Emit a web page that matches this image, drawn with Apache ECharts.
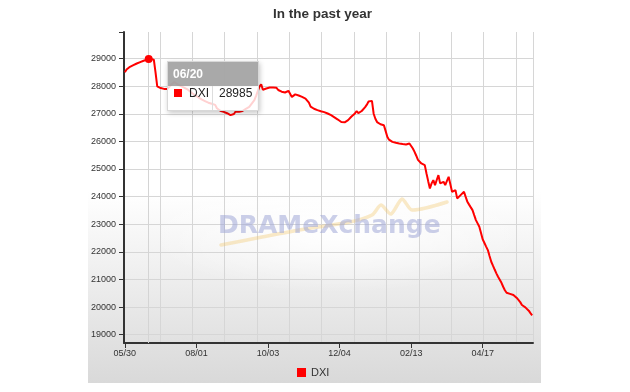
<!DOCTYPE html>
<html><head><meta charset="utf-8">
<script src="https://cdn.jsdelivr.net/npm/echarts@6/dist/echarts.min.js"></script>
<style>html,body{margin:0;padding:0;background:#fff;}#c{width:630px;height:392px;}</style>
</head><body><div id="c"></div>
<script>
// ---------- data ----------
const titleText = 'In the past year';
const seriesName = 'DXI';
const startDate = '2023-05-30';
const holidays = ['2023-06-02','2023-06-22','2023-06-23','2023-08-03','2023-09-28','2023-09-29',
  '2023-10-09','2023-10-10','2023-12-25','2023-12-26','2024-01-01','2024-02-05','2024-02-06',
  '2024-02-07','2024-02-08','2024-02-09','2024-02-12','2024-02-14','2024-02-28','2024-04-04',
  '2024-04-05','2024-05-01'];
const dxi = [
28500,28600,28660,28700,28730,28760,28790,28820,28850,28870,
28890,28920,28940,28960,28985,28980,28970,28960,28500,27990,
27950,27930,27910,27900,27880,27900,27960,28040,28110,28150,
28100,28060,28030,28000,27970,27940,27910,27870,27820,27770,
27720,27680,27640,27600,27560,27520,27490,27460,27430,27400,
27380,27360,27340,27320,27200,27130,27110,27090,27070,27050,
27020,26990,26950,26920,26990,27080,27130,27070,27030,27100,
27150,27180,27220,27250,27320,27410,27490,27650,27820,27980,
28070,27870,27890,27915,27930,27950,27960,27950,27960,27940,
27860,27817,27800,27780,27770,27800,27830,27853,27610,27660,
27700,27680,27660,27640,27610,27580,27550,27530,27400,27260,
27220,27180,27150,27130,27110,27090,27070,27060,27046,27010,
26980,26950,26910,26870,26830,26790,26768,26700,26648,26690,
26730,26768,26830,26900,26950,27010,27100,27020,27010,27100,
27160,27240,27330,27440,27470,27466,27000,26820,26700,26648,
26620,26600,26587,26380,26164,26060,26010,25983,25960,25950,
25940,25925,25915,25905,25895,25889,25910,25925,25863,25740,
25621,25480,25330,25259,25200,25160,25140,24839,24560,24297,
24478,24597,24416,24600,24778,24478,24510,24536,24416,24570,
24717,24450,24174,24200,24235,23935,24000,24054,24110,24174,
23990,23812,23710,23610,23511,23330,23150,23030,22907,22680,
22450,22320,22190,22064,21850,21641,21500,21360,21222,21100,
21040,20880,20737,20610,20520,20498,20480,20460,20437,20380,
20330,20290,20180,20075,20030,19990,19955,19870,19780,19700];
const yTickValues = [19000,20000,21000,22000,23000,24000,25000,26000,27000,28000,29000];
const yMin = 18700, yMax = 29960;
const labelEvery = 42;
const gridFirst = 21, gridEvery = 19;
const tipIndex = 14;

// ---------- categories (trading days) ----------
function buildDates(start, n, skip) {
  const out = [];
  const d = new Date(start + 'T00:00:00Z');
  while (out.length < n) {
    const iso = d.toISOString().slice(0, 10);
    const wd = d.getUTCDay();
    if (wd !== 0 && wd !== 6 && skip.indexOf(iso) < 0) out.push(iso.slice(5, 7) + '/' + iso.slice(8, 10));
    d.setUTCDate(d.getUTCDate() + 1);
  }
  return out;
}
const categories = buildDates(startDate, dxi.length, holidays);

const chart = echarts.init(document.getElementById('c'), null, {renderer: 'canvas'});
const labelFont = '"Liberation Sans", Arial, sans-serif';

chart.setOption({
  animation: false,
  backgroundColor: '#fff',
  title: {
    text: titleText, left: 273, top: 7, padding: 0,
    textStyle: {fontFamily: labelFont, fontSize: 13.5, fontWeight: 'bold', color: '#333'}
  },
  legend: {
    data: [seriesName], left: 297, top: 367, padding: 0,
    icon: 'rect', itemWidth: 9, itemHeight: 9,
    textStyle: {fontFamily: labelFont, fontSize: 11, color: '#333'}
  },
  grid: {left: 124, right: 97, top: 32, bottom: 49, containLabel: false, outerBoundsMode: 'none'},
  graphic: [
    {type: 'rect', z: -100, silent: true,
     shape: {x: 88, y: 0, width: 453, height: 383},
     style: {fill: new echarts.graphic.LinearGradient(0, 0, 0, 1, [
       {offset: 0, color: '#ffffff'}, {offset: 0.5, color: '#ffffff'}, {offset: 1, color: '#d9d9d9'}])}},
    {type: 'circle', z: -99, silent: true, x: 335, y: 232, scaleX: 1.7, scaleY: 0.55,
     shape: {cx: 0, cy: 0, r: 110},
     style: {fill: new echarts.graphic.RadialGradient(0.5, 0.5, 0.5, [
       {offset: 0, color: 'rgba(255,255,255,1)'}, {offset: 1, color: 'rgba(255,255,255,0)'}])}},
    {type: 'polyline', z: 1, silent: true,
     shape: {points: [[221,245],[262,237],[305,229],[350,222],[372,215],[381,205],[391,214],[402,199],[412,210],[447,202]], smooth: 0.25},
     style: {stroke: 'rgba(242,200,110,0.38)', lineWidth: 3.5, fill: null, lineCap: 'round', lineJoin: 'round'}},
    {type: 'text', z: 1, silent: true,
     style: {text: 'DRAMeXchange', x: 218, y: 226, verticalAlign: 'middle',
       font: 'bold 25px "DejaVu Sans", Verdana, sans-serif', fill: 'rgba(160,168,215,0.55)'}}
  ],
  tooltip: {
    trigger: 'axis', show: true, alwaysShowContent: true, transitionDuration: 0,
    padding: 0, borderWidth: 1, borderColor: '#d8d8d8', borderRadius: 0,
    backgroundColor: 'rgba(255,255,255,0.82)',
    extraCssText: 'box-shadow:1px 2px 5px rgba(0,0,0,0.22);border-radius:0;',
    axisPointer: {type: 'line', z: 1, lineStyle: {color: '#d4d4d4', width: 1, type: 'solid'}, label: {show: false}},
    position: function (pt) { return [pt[0] + 18, pt[1] + 2]; },
    formatter: function (params) {
      const p = params[0];
      return '<div style="background:rgba(150,150,150,0.82);color:#fff;font:bold 12px \'Liberation Sans\',Arial;height:24px;line-height:24px;padding:0 5px;">' + p.axisValue + '</div>' +
        '<div style="display:flex;height:24px;line-height:24px;font:12px \'Liberation Sans\',Arial;color:#222;">' +
        '<div style="width:45px;box-sizing:border-box;padding-left:6px;border-right:1px solid #ddd;white-space:nowrap;">' +
        '<span style="display:inline-block;width:8px;height:8px;background:#f00;margin-right:7px;"></span>' + p.seriesName + '</div>' +
        '<div style="padding:0 6px;">' + p.value + '</div></div>';
    }
  },
  xAxis: {
    type: 'category', data: categories, boundaryGap: true,
    axisLine: {show: true, lineStyle: {color: '#333', width: 2}},
    axisTick: {show: true, alignWithLabel: true, length: 5, lineStyle: {color: '#333', width: 1},
      interval: function (i) { return i % labelEvery === 0; }},
    axisLabel: {show: true, margin: 6, fontFamily: labelFont, fontSize: 9, color: '#333',
      interval: function (i) { return i % labelEvery === 0; }},
    splitLine: {show: true, lineStyle: {color: '#d6d6d6', width: 1},
      interval: function (i) { return i >= gridFirst && (i - gridFirst) % gridEvery === 0; }}
  },
  yAxis: [{
    type: 'value', min: yMin, max: yMax,
    axisLine: {show: true, lineStyle: {color: '#333', width: 2}},
    axisTick: {show: true, length: 5, lineStyle: {color: '#333', width: 1}, customValues: yTickValues},
    axisLabel: {show: true, margin: 8, fontFamily: labelFont, fontSize: 9, color: '#333', customValues: yTickValues,
      formatter: function (v) { return String(v); }},
    splitLine: {show: true, lineStyle: {color: '#d6d6d6', width: 1}}
  }, {
    type: 'value', min: yMin, max: yMax, position: 'left',
    axisLine: {show: false}, axisLabel: {show: false}, splitLine: {show: false},
    axisTick: {show: true, length: 5, lineStyle: {color: '#333', width: 1}, customValues: [yMax]}
  }],
  series: [{
    name: seriesName, type: 'line', data: dxi, yAxisIndex: 0,
    showSymbol: false, symbol: 'circle', symbolSize: 8,
    itemStyle: {color: '#ff0000'},
    lineStyle: {color: '#ff0000', width: 2},
    emphasis: {scale: false, lineStyle: {width: 2}},
    z: 3
  }]
});
chart.dispatchAction({type: 'showTip', seriesIndex: 0, dataIndex: tipIndex});
</script></body></html>
